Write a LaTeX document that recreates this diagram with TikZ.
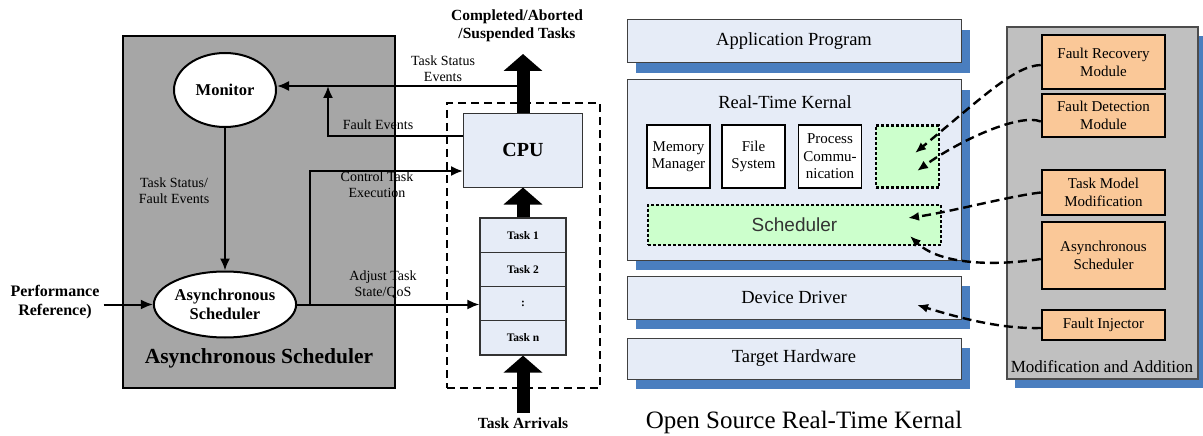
\documentclass[tikz,border=0pt]{standalone}
\usepackage{fontspec}
\setmainfont{Liberation Serif}
\newfontfamily\schedfont{Liberation Sans}
\usetikzlibrary{arrows.meta,shapes.geometric,shadows}
\definecolor{lgray}{HTML}{A6A6A6}
\definecolor{rgray}{HTML}{C0C0C0}
\definecolor{bluefill}{HTML}{E6ECF7}
\definecolor{greenfill}{HTML}{CCFFCC}
\definecolor{shblue}{HTML}{4A7EBF}
\definecolor{orfill}{HTML}{FAC898}
\begin{document}
\begin{tikzpicture}[x=1pt,y=-1pt,
  conn/.style={line width=2pt,-{Latex[length=12pt,width=10pt]}},
  dconn/.style={line width=2.4pt,dash pattern=on 9pt off 5pt,-{Latex[length=11pt,width=9pt]}},
  bigarrow/.style={line width=13pt,-{Triangle[length=17pt,width=38pt]}},
  lbl/.style={font=\fontsize{14}{16}\selectfont,align=center,inner sep=0pt},
  blbl/.style={font=\bfseries\fontsize{16}{19}\selectfont,align=center,inner sep=0pt},
  ell/.style={ellipse,draw=black,line width=2pt,fill=white,inner sep=0pt,align=center,font=\bfseries\fontsize{16.5}{19}\selectfont},
  qrow/.style={rectangle,draw=black!80,line width=1.2pt,fill=bluefill,minimum width=86pt,minimum height=34.25pt,inner sep=0pt,font=\bfseries\fontsize{11.5}{13}\selectfont},
  layer/.style={rectangle,draw=black!75,line width=1pt,fill=bluefill,minimum width=334pt,inner sep=0pt,
     drop shadow={shadow xshift=9pt,shadow yshift=-10pt,fill=shblue,opacity=1},font=\fontsize{18.5}{20}\selectfont},
  innerbox/.style={rectangle,draw=black,line width=1.8pt,fill=white,minimum width=63pt,minimum height=63pt,inner sep=0pt,align=center,font=\fontsize{15}{17.5}\selectfont},
  dotbox/.style={rectangle,draw=black,line width=2.7pt,dash pattern=on 2.7pt off 2.3pt,fill=greenfill,inner sep=0pt},
  orbox/.style={rectangle,draw=black,line width=2.5pt,fill=orfill,minimum width=123pt,inner sep=0pt,align=center,font=\fontsize{15}{18}\selectfont}
]
\useasboundingbox (0,0) rectangle (1203,436);
% ---------- left part ----------
\node[rectangle,draw=black,line width=1.2pt,fill=lgray,minimum width=272pt,minimum height=352pt,inner sep=0pt] (lbox) at (259,212) {};
\node[rectangle,draw=black,line width=2pt,dash pattern=on 8pt off 5pt,minimum width=153pt,minimum height=285pt,inner sep=0pt] (dbox) at (523.5,245.5) {};
\node[font=\bfseries\fontsize{21.5}{24}\selectfont,inner sep=0pt] (ltitle) at (259,358) {Asynchronous Scheduler};
\node[ell,minimum width=102pt,minimum height=74pt] (monitor) at (225,90) {Monitor};
\node[ell,minimum width=135pt,minimum height=66pt] (asyn) at (225,304.5) {Asynchronous\\Scheduler};
\node[blbl] (perf) at (55,302) {Performance\\Reference)};
\node[rectangle,draw=black!80,line width=1pt,fill=bluefill,minimum width=119pt,minimum height=74pt,inner sep=0pt,font=\bfseries\fontsize{20}{22}\selectfont] (cpu) at (523,150) {CPU};
\node[qrow] (q1) at (523,235.1) {Task 1};
\node[qrow] (q2) at (523,269.4) {Task 2};
\node[qrow] (q3) at (523,303.6) {:};
\node[qrow] (q4) at (523,337.9) {Task n};
\coordinate (br) at (310,304.5);
\coordinate (fe) at (328,86);
\coordinate (tse) at (523,86);
\coordinate (outtip) at (523,54);
\coordinate (arr) at (523,413);
\draw[conn] (monitor) -- (asyn);
\draw[conn] ([xshift=4pt]perf.east |- asyn) -- (asyn.west);
\draw[conn] (asyn.east) -- (asyn.east -| q3.west);
\draw[conn] (br) |- ([yshift=-21pt]cpu.west);
\draw[conn] ([yshift=14pt]cpu.west) -| (fe);
\draw[conn] (tse) -- (tse -| monitor.east);
\draw[bigarrow] (cpu.north) -- (outtip);
\draw[bigarrow] (q1.north) -- (cpu.south);
\draw[bigarrow] (arr) -- (q4.south);
\node[lbl] (l1) at (174,191) {Task Status/\\Fault Events};
\node[lbl] (l2) at (378,125) {Fault Events};
\node[lbl] (l3) at (377,184.5) {Control Task\\Execution};
\node[lbl] (l4) at (383,285) {Adjust Task\\State/QoS};
\node[lbl] (l5) at (443,69) {Task Status\\Events};
\node[blbl,font=\bfseries\fontsize{15.5}{18}\selectfont] (l6) at (517,26) {Completed/Aborted\\/Suspended Tasks};
\node[blbl,font=\bfseries\fontsize{15.5}{18}\selectfont] (l7) at (523,423) {Task Arrivals};
% ---------- right part ----------
\node[layer,minimum height=43pt] (app) at (794,41.5) {Application Program};
\node[layer,minimum height=180pt] (rtk) at (794,170) {};
\node[layer,minimum height=43pt] (dev) at (794,297.5) {Device Driver};
\node[layer,minimum height=41pt] (hw) at (794,358.5) {Target Hardware};
\node[font=\fontsize{18.5}{20}\selectfont,inner sep=0pt] (rtkt) at (785,102) {Real-Time Kernal};
\node[innerbox] (mm) at (678.5,156.5) {Memory\\Manager};
\node[innerbox] (fs) at (753.5,156.5) {File\\System};
\node[innerbox] (pc) at (830,156.5) {Process\\Commu-\\nication};
\node[dotbox,minimum width=63pt,minimum height=62pt] (gb) at (907.5,156.5) {};
\node[dotbox,minimum width=293pt,minimum height=40pt,font=\schedfont\fontsize{19}{21}\selectfont,text=black!80] (sch) at (794.5,225) {Scheduler};
\node[font=\fontsize{25}{28}\selectfont,inner sep=0pt] (ostitle) at (804,422) {Open Source Real-Time Kernal};
\node[rectangle,draw=black!70,line width=1.2pt,fill=rgray,minimum width=191pt,minimum height=352pt,inner sep=0pt,
  drop shadow={shadow xshift=8pt,shadow yshift=-9pt,fill=shblue,opacity=1}] (rbox) at (1102.5,203) {};
\node[font=\fontsize{17}{19}\selectfont,inner sep=0pt] (rtitle) at (1102,367) {Modification and Addition};
\node[orbox,minimum height=54pt] (frm) at (1103.5,62) {Fault Recovery\\Module};
\node[orbox,minimum height=43pt] (fdm) at (1103.5,115.5) {Fault Detection\\Module};
\node[orbox,minimum height=45pt] (tmm) at (1103.5,192.5) {Task Model\\Modification};
\node[orbox,minimum height=67pt] (as2) at (1103.5,255.5) {Asynchronous\\Scheduler};
\node[orbox,minimum height=30pt] (fi) at (1103.5,325) {Fault Injector};
\coordinate (t1) at (915,153);
\coordinate (t2) at (917,171);
\coordinate (t3) at (908,218);
\coordinate (t4) at (910,236);
\coordinate (t5) at (917,305);
\draw[dconn] ([yshift=-3pt]frm.west) .. controls (1015,66) and (985,95) .. (t1);
\draw[dconn] ([yshift=-6pt]fdm.west) .. controls (1020,113) and (960,140) .. (t2);
\draw[dconn] (tmm.west) .. controls (1010,196) and (950,212) .. (t3);
\draw[dconn] ([yshift=-3.5pt]as2.west) .. controls (995,266) and (940,265) .. (t4);
\draw[dconn] ([yshift=-3pt]fi.west) .. controls (1000,329) and (960,318) .. (t5);
\end{tikzpicture}
\end{document}
